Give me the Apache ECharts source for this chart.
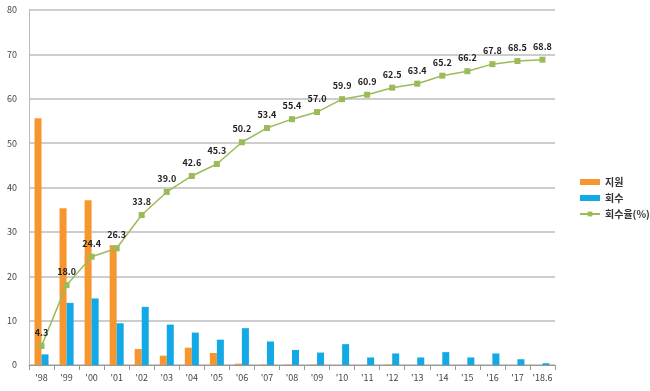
<!DOCTYPE html>
<html><head><meta charset="utf-8">
<script src="https://cdn.jsdelivr.net/npm/echarts@6/dist/echarts.min.js"></script>
<style>html,body{margin:0;padding:0;background:#fff}#c{width:650px;height:391px}</style>
</head><body><div id="c"></div>
<script>
const categories = ["'98","'99","'00","'01","'02","'03","'04","'05","'06","'07","'08","'09","'10","'11","'12","'13","'14","'15","'16","'17","'18.6"];
const support = [55.6,35.3,37.1,27.0,3.6,2.1,3.9,2.7,0.3,0.1,0.1,0.1,0,0,0.1,0,0,0,0,0,0];
const recovery = [2.4,14.0,15.0,9.4,13.1,9.1,7.3,5.7,8.3,5.3,3.4,2.8,4.7,1.7,2.6,1.7,2.9,1.7,2.6,1.3,0.4];
const rate = [4.3,18.0,24.4,26.3,33.8,39.0,42.6,45.3,50.2,53.4,55.4,57.0,59.9,60.9,62.5,63.4,65.2,66.2,67.8,68.5,68.8];
const yTicks = [0,10,20,30,40,50,60,70,80];

const chart = echarts.init(document.getElementById('c'));
chart.setOption({
  animation:false,
  textStyle:{fontFamily:'"Noto Sans CJK KR", "Noto Sans", sans-serif'},
  grid:{left:29,right:95,top:10,bottom:26},
  legend:{
    orient:'vertical', left:574, top:172, itemGap:6, itemWidth:20, itemHeight:6,
    textStyle:{fontSize:10,fontWeight:'bold',color:'#333'},
    data:[{name:'지원',icon:'rect'},{name:'회수',icon:'rect'},{name:'회수율(%)'}]
  },
  xAxis:{
    type:'category', data:categories,
    axisLine:{lineStyle:{color:'#999'}},
    axisTick:{show:true,interval:0,lineStyle:{color:'#999'}},
    axisLabel:{color:'#444',fontSize:9,margin:8,interval:0}
  },
  yAxis:{
    type:'value', min:yTicks[0], max:yTicks[yTicks.length-1], interval:10,
    axisLine:{show:true,lineStyle:{color:'#bbb'}},
    axisTick:{show:false},
    splitLine:{lineStyle:{color:'#bdbdbd',width:1.5}},
    axisLabel:{color:'#444',fontSize:9,margin:12}
  },
  series:[
    {name:'지원',type:'bar',data:support,barGap:'0%',barCategoryGap:'44%',itemStyle:{color:'#F7962F'}},
    {name:'회수',type:'bar',data:recovery,itemStyle:{color:'#13A9E6'}},
    {name:'회수율(%)',type:'line',data:rate,symbol:'rect',symbolSize:6,
     lineStyle:{color:'#9BBB59',width:1.5},itemStyle:{color:'#9BBB59'},
     label:{show:true,position:'top',distance:6,fontSize:9,fontWeight:'bold',color:'#222',
       formatter:p=>p.value.toFixed(1)}}
  ]
});
</script></body></html>
